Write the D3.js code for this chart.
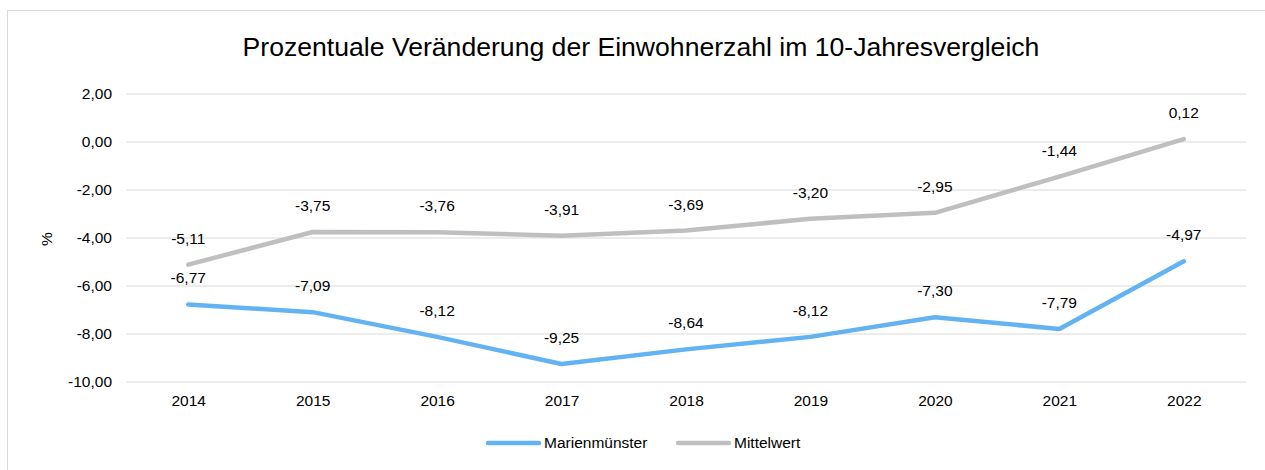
<!DOCTYPE html>
<html>

<head>
    <meta charset="utf-8">
    <script src="https://cdn.jsdelivr.net/npm/d3@7"></script>
    <style>
        body { margin: 0; background: #fff; }
        text {
            fill: #000;
            font-family: "Liberation Sans", Arial, sans-serif;
        }
    </style>
</head>

<body>

    <script>

        var years = ["2014", "2015", "2016", "2017", "2018", "2019", "2020", "2021", "2022"];
        var marienmuenster = [-6.77, -7.09, -8.12, -9.25, -8.64, -8.12, -7.30, -7.79, -4.97];
        var mittelwert = [-5.11, -3.75, -3.76, -3.91, -3.69, -3.20, -2.95, -1.44, 0.12];
        var yTicks = [2, 0, -2, -4, -6, -8, -10];

        var series = [
            { name: "Marienmünster", values: marienmuenster, color: "#63b3f3" },
            { name: "Mittelwert", values: mittelwert, color: "#bfbfbf" }
        ];

        var fmt = function (v) { return d3.format(".2f")(v).replace(".", ",").replace("−", "-"); };
        var small = '15.5px';

        var svg = d3.select('body')
            .append('svg')
            .attr('width', 1265)
            .attr('height', 470);

        // chart frame (runs past the right and bottom edge)
        svg.append('rect')
            .attr('x', 7.5).attr('y', 10.5)
            .attr('width', 1300).attr('height', 500)
            .attr('fill', 'none')
            .attr('stroke', '#d9d9d9');

        var x = d3.scalePoint().domain(years).range([126, 1246]).padding(0.5);
        var y = d3.scaleLinear().domain([-10, 2]).range([382, 94]);

        // grid lines
        svg.append('g')
            .selectAll('line')
            .data(yTicks)
            .join('line')
            .attr('x1', 126).attr('x2', 1246)
            .attr('y1', d => y(d)).attr('y2', d => y(d))
            .attr('stroke', '#d9d9d9')
            .attr('stroke-width', 1);

        // y axis labels
        var yAxis = svg.append('g')
            .attr('transform', 'translate(112,0)')
            .call(d3.axisLeft(y).tickValues(yTicks).tickSize(0).tickPadding(0).tickFormat(fmt));
        yAxis.select('.domain').remove();
        yAxis.selectAll('text').style('font-size', small).style('font-family', '"Liberation Sans", Arial, sans-serif');

        // x axis labels
        var xAxis = svg.append('g')
            .attr('transform', 'translate(0,' + 395 + ')')
            .call(d3.axisBottom(x).tickSize(0).tickPadding(0));
        xAxis.select('.domain').remove();
        xAxis.selectAll('text').style('font-size', small).style('font-family', '"Liberation Sans", Arial, sans-serif');

        svg.append('text')
            .attr('transform', 'translate(52,239) rotate(-90)')
            .attr('text-anchor', 'middle')
            .style('font-size', small)
            .text('%');

        svg.append('text')
            .attr('x', 641)
            .attr('y', 56)
            .attr('text-anchor', 'middle')
            .style('font-size', '26.6px')
            .text('Prozentuale Veränderung der Einwohnerzahl im 10-Jahresvergleich');

        var line = d3.line()
            .x((d, i) => x(years[i]))
            .y(d => y(d));

        series.forEach(function (s) {
            svg.append('path')
                .datum(s.values)
                .attr('d', line)
                .attr('fill', 'none')
                .attr('stroke', s.color)
                .attr('stroke-width', 4.5)
                .attr('stroke-linecap', 'round')
                .attr('stroke-linejoin', 'round');
        });

        series.forEach(function (s) {
            svg.append('g')
                .selectAll('text')
                .data(s.values)
                .join('text')
                .attr('x', (d, i) => x(years[i]))
                .attr('y', d => y(d) - 21)
                .attr('text-anchor', 'middle')
                .style('font-size', small)
                .text(fmt);
        });

        // legend
        var legend = svg.append('g');
        var legendX = [486, 676];
        series.forEach(function (s, i) {
            legend.append('line')
                .attr('x1', legendX[i] + 2).attr('x2', legendX[i] + 53)
                .attr('y1', 443).attr('y2', 443)
                .attr('stroke', s.color)
                .attr('stroke-width', 4.5)
                .attr('stroke-linecap', 'round');
            legend.append('text')
                .attr('x', legendX[i] + 58)
                .attr('y', 448)
                .style('font-size', small)
                .text(s.name);
        });
    </script>

</body>

</html>
